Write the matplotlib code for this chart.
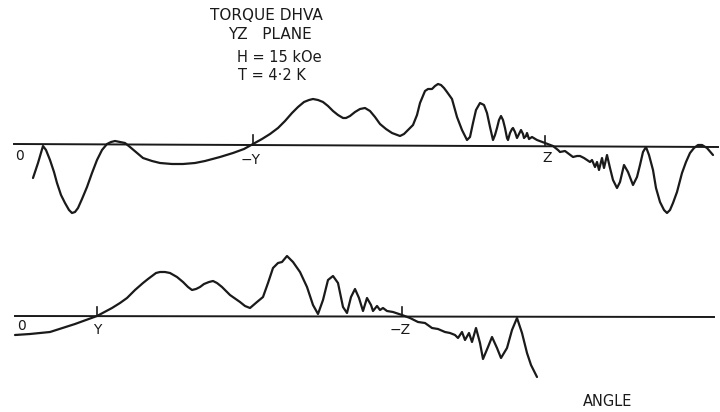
import matplotlib
matplotlib.use("Agg")
import matplotlib.pyplot as plt

# ---- data (angle in arbitrary units, torque in arbitrary units, + = up) ----
upper_angle = [33, 38, 43, 46, 50, 54, 57, 61, 65, 69, 72, 75, 78, 82, 87, 92, 97, 102, 107, 111, 115, 120,
               125, 130, 137, 143, 152, 160, 172, 183, 195, 205, 220, 233, 244, 253, 262, 270, 278, 285,
               292, 298, 304, 309, 313, 318, 323, 328, 333, 338, 343, 346, 350, 355, 360, 365, 370, 375,
               380, 386, 392, 400, 404, 408, 413, 417, 420, 425, 428, 432, 435, 438, 441, 444, 447, 452,
               457, 462, 467, 470, 473, 476, 480, 484, 487, 490, 493, 495, 497, 499, 501, 503, 505, 507,
               508, 510, 512, 513, 515, 517, 519, 521, 523, 524, 526, 527, 529, 532, 537, 545, 553, 558,
               560, 565, 569, 573, 577, 580, 584, 587, 590, 592, 595, 597, 599, 602, 604, 607, 610, 613,
               617, 620, 624, 628, 633, 637, 640, 643, 646, 649, 653, 656, 660, 664, 667, 670, 673, 677,
               682, 686, 690, 694, 698, 702, 707, 713]
upper_pix = [178, 163, 146, 150, 160, 172, 183, 195, 203, 210, 213, 212, 208, 199, 187, 173, 160, 150, 144, 142, 141, 142,
             143, 147, 153, 158, 161, 163, 164, 164, 163, 161, 157, 153, 149, 144, 139, 134, 128, 121,
             113, 107, 102, 100, 99, 100, 102, 106, 111, 115, 118, 118, 116, 112, 109, 108, 111, 117,
             124, 129, 133, 136, 134, 130, 125, 115, 103, 91, 89, 89, 86, 84, 85, 88, 92, 99,
             117, 130, 140, 137, 123, 110, 103, 105, 113, 127, 140, 135, 128, 120, 116, 120, 128, 138,
             140, 133, 129, 128, 132, 138, 134, 130, 134, 138, 136, 133, 139, 137, 140, 143, 146, 150,
             152, 151, 154, 157, 156, 156, 158, 160, 162, 160, 167, 162, 170, 158, 168, 155, 168, 180,
             188, 182, 165, 172, 185, 177, 165, 152, 147, 155, 170, 188, 202, 210, 213, 210, 203, 192,
             173, 162, 153, 148, 145, 145, 148, 155]
upper_torque = [144 - v for v in upper_pix]

lower_angle = [15, 30, 50, 75, 97, 112, 120, 127, 135, 143, 148, 152, 156, 160, 165, 170, 177, 183, 188, 192,
               196, 200, 204, 209, 213, 217, 222, 230, 240, 245, 250, 257, 263, 268, 273, 278, 282, 287,
               293, 300, 307, 313, 318, 323, 328, 333, 338, 343, 347, 351, 355, 359, 363, 367, 371, 373,
               377, 380, 383, 387, 393, 402, 410, 418, 425, 432, 438, 445, 450, 455, 458, 462, 465, 469,
               472, 476, 480, 483, 488, 492, 497, 501, 507, 512, 517, 522, 527, 531, 537]
lower_pix = [335, 334, 332, 324, 316, 308, 303, 298, 290, 283, 279, 276, 273, 272, 272, 273, 277, 282, 287, 290,
             289, 287, 284, 282, 281, 283, 287, 295, 302, 306, 308, 302, 297, 283, 268, 263, 262, 256,
             262, 272, 287, 305, 314, 300, 280, 276, 283, 307, 313, 297, 289, 298, 311, 298, 305, 311,
             306, 310, 308, 311, 312, 315, 318, 322, 323, 328, 329, 332, 333, 335, 338, 332, 340, 333,
             342, 328, 343, 359, 347, 337, 348, 358, 348, 330, 318, 333, 353, 365, 377]
lower_torque = [316 - v for v in lower_pix]

title_lines = ["TORQUE DHVA", "YZ   PLANE", "H = 15 kOe", "T = 4·2 K"]
upper_marks = ["0", "\u2212Y", "Z"]
lower_marks = ["0", "Y", "\u2212Z"]

ink = "#1a1a1a"

fig = plt.figure(figsize=(7.2, 4.12), dpi=100)
ax = fig.add_axes([0, 0, 1, 1])
ax.set_xlim(0, 720)
ax.set_ylim(412, 0)
ax.axis("off")

UB, LB = 144, 316  # baselines

# baselines
ax.plot([14, 718], [UB, UB + 3], color=ink, lw=1.4)
ax.plot([15, 714], [LB, LB + 1], color=ink, lw=1.4)

# curves
kw = dict(color=ink, lw=1.6, solid_joinstyle="round", solid_capstyle="round")
ax.plot(upper_angle, [UB - t for t in upper_torque], **kw)
ax.plot(lower_angle, [LB - t for t in lower_torque], **kw)

# ticks
for x, y0 in [(253, UB), (545, UB + 1)]:
    ax.plot([x, x], [y0 - 9, y0], color=ink, lw=1.2)
for x in [97, 402]:
    ax.plot([x, x], [LB - 9, LB], color=ink, lw=1.2)

fs = 10
ax.text(20, 156, upper_marks[0], ha="center", va="center", fontsize=fs, color=ink)
ax.text(251, 160, upper_marks[1], ha="center", va="center", fontsize=fs, color=ink)
ax.text(547, 158, upper_marks[2], ha="center", va="center", fontsize=fs, color=ink)
ax.text(21, 326, lower_marks[0], ha="center", va="center", fontsize=fs, color=ink)
ax.text(97, 330, lower_marks[1], ha="center", va="center", fontsize=fs, color=ink)
ax.text(400, 330, lower_marks[2], ha="center", va="center", fontsize=fs, color=ink)

ax.text(266, 15, title_lines[0], ha="center", va="center", fontsize=11, color=ink)
ax.text(270, 34, title_lines[1], ha="center", va="center", fontsize=11, color=ink)
ax.text(279, 57, title_lines[2], ha="center", va="center", fontsize=10.5, color=ink)
ax.text(272, 75, title_lines[3], ha="center", va="center", fontsize=10.5, color=ink)

ax.text(608, 401, "ANGLE", ha="center", va="center", fontsize=10.5, color=ink)

fig.savefig("out.png", dpi=100, facecolor="white")
